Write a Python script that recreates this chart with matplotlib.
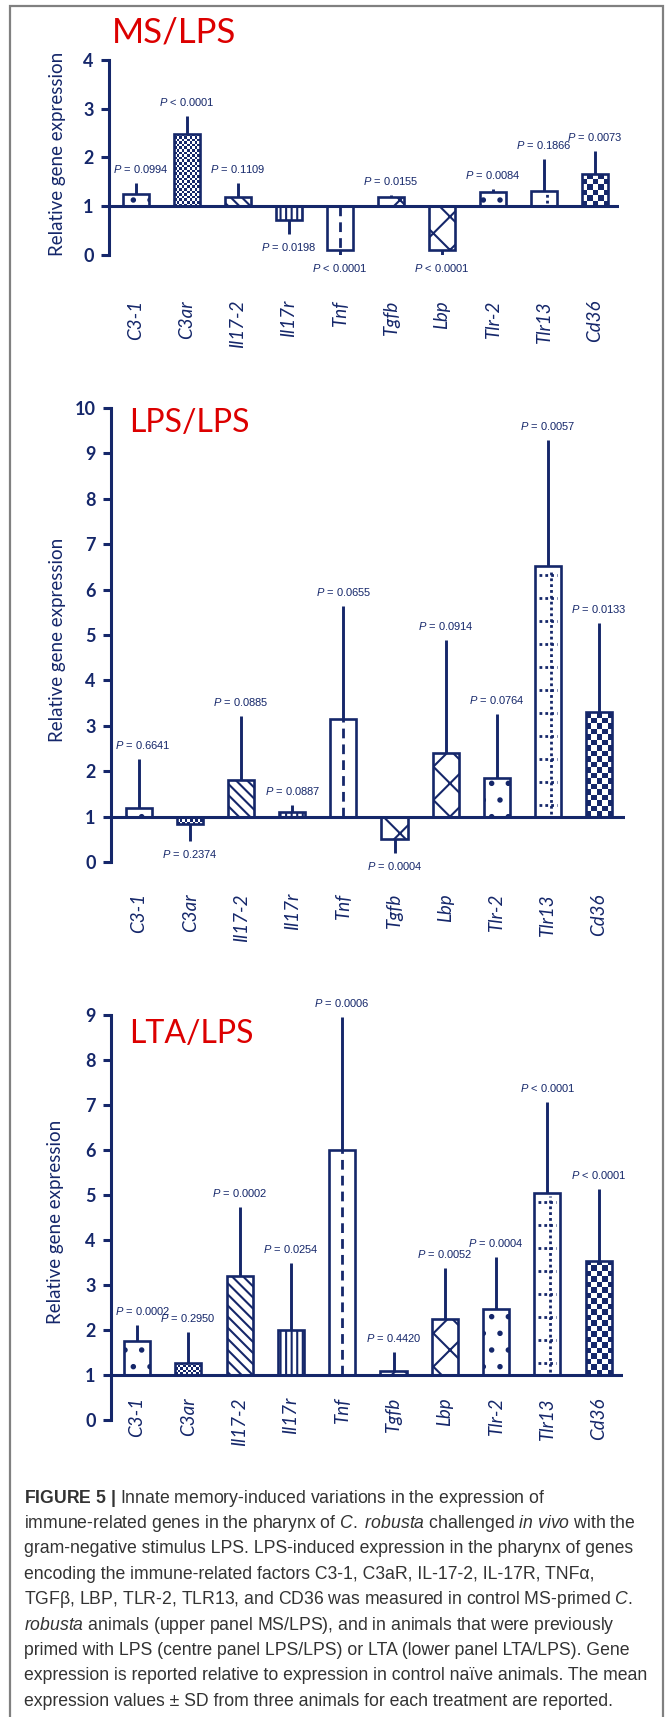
import matplotlib
matplotlib.use('Agg')
import matplotlib.pyplot as plt
from matplotlib import font_manager
from matplotlib.patches import Rectangle
from matplotlib.transforms import blended_transform_factory
import numpy as np

genes = ['C3-1', 'C3ar', 'Il17-2', 'Il17r', 'Tnf', 'Tgfb', 'Lbp', 'Tlr-2', 'Tlr13', 'Cd36']

# MS/LPS
ms_mean = [1.26, 2.49, 1.18, 0.71, 0.11, 1.18, 0.11, 1.29, 1.32, 1.67]
ms_sd = [0.21, 0.36, 0.29, 0.27, 0.10, 0.06, 0.10, 0.06, 0.65, 0.47]
ms_p = ['= 0.0994', '< 0.0001', '= 0.1109', '= 0.0198', '< 0.0001',
        '= 0.0155', '< 0.0001', '= 0.0084', '= 0.1866', '= 0.0073']

# LPS/LPS
lps_mean = [1.18, 0.83, 1.80, 1.10, 3.16, 0.50, 2.40, 1.85, 6.53, 3.31]
lps_sd = [1.08, 0.37, 1.42, 0.15, 2.47, 0.31, 2.48, 1.42, 2.77, 1.96]
lps_p = ['= 0.6641', '= 0.2374', '= 0.0885', '= 0.0887', '= 0.0655',
         '= 0.0004', '= 0.0914', '= 0.0764', '= 0.0057', '= 0.0133']

# LTA/LPS
lta_mean = [1.75, 1.27, 3.20, 2.00, 6.00, 1.09, 2.24, 2.46, 5.04, 3.53]
lta_sd = [0.36, 0.69, 1.53, 1.49, 2.96, 0.43, 1.14, 1.16, 2.03, 1.60]
lta_p = ['= 0.0002', '= 0.2950', '= 0.0002', '= 0.0254', '= 0.0006',
         '= 0.4420', '= 0.0052', '= 0.0004', '< 0.0001', '< 0.0001']

caption = [
    r"$\mathbf{FIGURE\ 5\ |}$ Innate memory-induced variations in the expression of",
    r"immune-related genes in the pharynx of $\mathit{C.\ robusta}$ challenged $\mathit{in\ vivo}$ with the",
    "gram-negative stimulus LPS. LPS-induced expression in the pharynx of genes",
    "encoding the immune-related factors C3-1, C3aR, IL-17-2, IL-17R, TNFα,",
    r"TGFβ, LBP, TLR-2, TLR13, and CD36 was measured in control MS-primed $\mathit{C.}$",
    r"$\mathit{robusta}$ animals (upper panel MS/LPS), and in animals that were previously",
    "primed with LPS (centre panel LPS/LPS) or LTA (lower panel LTA/LPS). Gene",
    "expression is reported relative to expression in control naïve animals. The mean",
    "expression values ± SD from three animals for each treatment are reported.",
]

# fill pattern for each gene's bar
styles = ['dots', 'fine', 'diag', 'vert', 'dash', 'lattice', 'lattice', 'dots', 'dotgrid', 'checker']

NAVY = '#15276a'
RED = '#dc0000'
W, H = 665, 1717


def has_font(name):
    try:
        font_manager.findfont(name, fallback_to_default=False)
        return True
    except ValueError:
        return False


narrow = 'Liberation Sans Narrow' if has_font('Liberation Sans Narrow') else 'Liberation Sans'
main = 'Lato' if has_font('Lato') else 'DejaVu Sans'

plt.rcParams['font.family'] = main
plt.rcParams['mathtext.fontset'] = 'custom'
plt.rcParams['mathtext.rm'] = narrow
plt.rcParams['mathtext.it'] = narrow + ':italic'
plt.rcParams['mathtext.bf'] = narrow + ':bold'
plt.rcParams['hatch.linewidth'] = 1.5
plt.rcParams['hatch.color'] = NAVY

fig = plt.figure(figsize=(W / 100, H / 100), dpi=100)
renderer = fig.canvas.get_renderer()


def bar_pixels(ax, bar):
    x0, y0 = bar.get_x(), bar.get_y()
    x1, y1 = x0 + bar.get_width(), y0 + bar.get_height()
    (px0, py0), (px1, py1) = ax.transData.transform([(x0, y0), (x1, y1)])
    return min(px0, px1), max(px0, px1), min(py0, py1), max(py0, py1)


def checker(ax, bar, size, z):
    px0, px1, py0, py1 = bar_pixels(ax, bar)
    inv = ax.transData.inverted()
    nx = int(np.ceil((px1 - px0) / size))
    ny = int(np.ceil((py1 - py0) / size))
    for i in range(nx):
        for j in range(ny):
            if (i + j) % 2:
                continue
            a, b = px0 + i * size, py0 + j * size
            c, d = min(a + size, px1), min(b + size, py1)
            (a, b), (c, d) = inv.transform([(a, b), (c, d)])
            ax.add_patch(Rectangle((a, b), c - a, d - b, facecolor=NAVY, lw=0, zorder=z))


def dotgrid(ax, bar, z):
    px0, px1, py0, py1 = bar_pixels(ax, bar)
    inv = ax.transData.inverted()
    xc = (px0 + px1) / 2 + 3
    ax.plot(*inv.transform([(xc, py0 + 3), (xc, py1 - 3)]).T, color=NAVY, lw=2.0,
            ls=(0, (1, 1.1)), zorder=z)
    yy = py0 + 12
    while yy < py1 - 5:
        ax.plot(*inv.transform([(px0 + 4, yy), (px1 - 4, yy)]).T, color=NAVY, lw=2.0,
                ls=(0, (1, 1.1)), zorder=z)
        yy += 23


def dashline(ax, bar, z):
    xc = bar.get_x() + bar.get_width() / 2
    ax.plot([xc, xc], [bar.get_y(), bar.get_y() + bar.get_height()], color=NAVY, lw=2.0,
            dashes=(3.5, 2.2), zorder=z)


hatches = {'dots': '.', 'diag': '\\\\\\', 'vert': '|||', 'lattice': 'x'}


def draw_panel(lay, means, sds, pvals, title):
    spine, first, step, end, top, zero, ymax = lay['axis']
    ax = fig.add_axes([spine / W, 1 - zero / H, (end - spine) / W, (zero - top) / H])
    ax.set_xlim(-(first - spine) / step, (end - first) / step)
    ax.set_ylim(0, ymax)
    ax.patch.set_alpha(0)

    x = np.arange(len(genes))
    means = np.array(means)
    sds = np.array(sds)
    up = means >= 1
    tips = np.where(up, means + sds, means - sds)

    ax.vlines(x, means, tips, color=NAVY, lw=2.1, zorder=2)
    fills = ax.bar(x, means - 1, bottom=1, width=0.51, color='white', edgecolor=NAVY,
                   linewidth=0, zorder=2.2)
    for bar, st in zip(fills, styles):
        if st in hatches:
            bar.set_hatch(hatches[st])
        elif st == 'checker':
            checker(ax, bar, 5.5, 2.4)
        elif st == 'fine':
            checker(ax, bar, 2.6, 2.4)
        elif st == 'dotgrid':
            dotgrid(ax, bar, 2.4)
        elif st == 'dash':
            dashline(ax, bar, 2.4)
    ax.bar(x, means - 1, bottom=1, width=0.51, facecolor='none', edgecolor=NAVY,
           linewidth=1.9, zorder=3)
    ax.axhline(1, color=NAVY, lw=2.2, zorder=4)

    # p-value above (or below) each whisker, kept clear of the y axis
    spine_px = ax.transAxes.transform((0, 0))[0]
    for xi, tip, u, p in zip(x, tips, up, pvals):
        t = ax.annotate('$P$ ' + p, (xi, tip), xytext=(0, 14 if u else -13),
                        textcoords='offset pixels', ha='center', va='center',
                        fontsize=8, family=narrow, color=NAVY, annotation_clip=False)
        left = t.get_window_extent(renderer).x0
        if left < spine_px + 4:
            t.xyann = (spine_px + 4 - left, t.xyann[1])

    for s in ['top', 'right', 'bottom']:
        ax.spines[s].set_visible(False)
    ax.spines['left'].set_color(NAVY)
    ax.spines['left'].set_linewidth(2.2)
    ax.set_yticks(range(ymax + 1))
    ax.set_yticklabels([str(v) for v in range(ymax + 1)], fontweight='bold')
    ax.tick_params(axis='y', length=6, width=2.2, color=NAVY, labelcolor=NAVY,
                   labelsize=13, pad=5)
    ax.set_xticks([])

    lab_tf = blended_transform_factory(ax.transData, fig.transFigure)
    for xi, g in zip(x, genes):
        ax.text(xi, 1 - lay['xlabels'] / H, g, transform=lab_tf, rotation=90,
                ha='center', va='top', fontsize=13.5, style='italic', color=NAVY)

    tx, ty, tsize = lay['title']
    fig.text(tx / W, 1 - ty / H, title, ha='left', va='center', fontsize=tsize, color=RED)
    lx, ly = lay['ylabel']
    fig.text(lx / W, 1 - ly / H, 'Relative gene expression', rotation=90, ha='center',
             va='center', fontsize=13.5, color=NAVY)


layouts = [
    {'axis': (109, 136, 51.0, 619, 60, 255, 4), 'xlabels': 300,
     'title': (112, 33, 25), 'ylabel': (58, 154)},
    {'axis': (111, 139, 51.1, 625, 408, 862, 10), 'xlabels': 893,
     'title': (129, 423, 23), 'ylabel': (58, 640)},
    {'axis': (111, 137, 51.3, 623, 1015, 1420, 9), 'xlabels': 1397,
     'title': (129, 1034, 23), 'ylabel': (56, 1222)},
]

draw_panel(layouts[0], ms_mean, ms_sd, ms_p, 'MS/LPS')
draw_panel(layouts[1], lps_mean, lps_sd, lps_p, 'LPS/LPS')
draw_panel(layouts[2], lta_mean, lta_sd, lta_p, 'LTA/LPS')

# caption block, sized so the longest line spans the text column
cap = [fig.text(24.5 / W, 1 - (1498 + 25.4 * i) / H, line, ha='left', va='center',
                fontsize=13, family=narrow, color='#333333')
       for i, line in enumerate(caption)]
widest = max(t.get_window_extent(renderer).width for t in cap)
for t in cap:
    t.set_fontsize(13 * 624 / widest)

fig.add_artist(Rectangle((10 / W, -0.01), 653 / W, 1.01 - 6 / H, transform=fig.transFigure,
                         fill=False, edgecolor='#808080', lw=1.6))

fig.savefig('out.png', dpi=100)
